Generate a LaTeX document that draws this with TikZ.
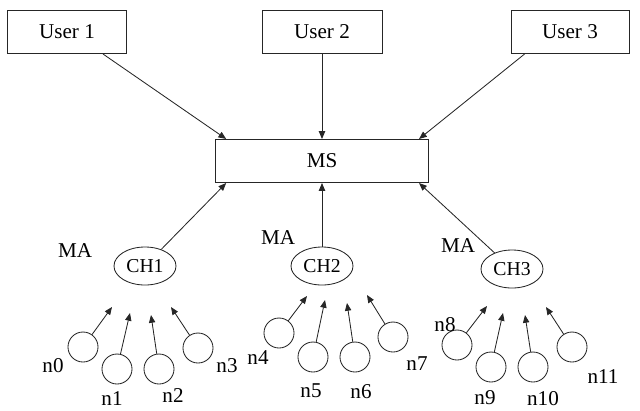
\documentclass[tikz,border=0pt]{standalone}
\usepackage{fontspec}
\setmainfont{Liberation Serif}
\usetikzlibrary{arrows.meta,shapes.geometric}

\begin{document}
\begin{tikzpicture}[x=0.025cm,y=-0.025cm,
    font=\fontsize{15}{18}\selectfont,
    line width=0.6pt,
    box/.style={draw=black!85,rectangle,minimum height=1.08cm,inner sep=0pt},
    chnode/.style={draw=black!85,ellipse,minimum width=1.55cm,minimum height=0.95cm,inner sep=0pt,font=\fontsize{14}{16}\selectfont},
    sensor/.style={draw=black!85,circle,minimum size=0.75cm,inner sep=0pt},
    arr/.style={draw=black!85,-{Triangle[length=5.5pt,width=4.5pt]}}]
  \useasboundingbox (0,0) rectangle (640,410);
  \def\sensors{83/347,117/369,159/369,198/348,279/333,313/357,355/357,393/337,457/345,491/367,533/367,572/347} % circle centres (x/y)
  \def\tips{112/307,130/313,151/315,171/307,307/296,325/300,347/303,367/295,487/306,503/313,525/315,546/307} % arrow ends
  \def\sensorlabels{53/366,112/399,173/396,227/366,258/358,311/391,361/392,417/364,445/325,485/398,543/399,603/377}

  \node[box,minimum width=2.98cm] (u1) at (67,32) {User 1};
  \node[box,minimum width=3cm] (u2) at (322,32) {User 2};
  \node[box,minimum width=2.95cm] (u3) at (570,32) {User 3};
  \node[box,minimum width=5.33cm] (ms) at (322,161) {MS};

  \node[chnode] (ch1) at (145,266) {CH1};
  \node[chnode] (ch2) at (322,266) {CH2};
  \node[chnode] (ch3) at (512,269) {CH3};
  \node (ma1) at (75,251) {MA};
  \node (ma2) at (278,238) {MA};
  \node (ma3) at (458,246) {MA};

  \draw[arr] ([xshift=-0.6cm]u1.south east) -- ([xshift=0.28cm]ms.north west);
  \draw[arr] (u2) -- (ms);
  \draw[arr] ([xshift=0.35cm]u3.south west) -- ([xshift=-0.25cm]ms.north east);
  \draw[arr] (ch1) -- ([xshift=0.28cm]ms.south west);
  \draw[arr] (ch2) -- (ms);
  \draw[arr] (ch3) -- ([xshift=-0.25cm]ms.south east);

  \foreach \x/\y [count=\i from 0] in \sensors {
    \node[sensor] (s\i) at (\x,\y) {}; }
  \foreach \x/\y [count=\i from 0] in \tips {
    \coordinate (t\i) at (\x,\y);
    \draw[arr] (s\i) -- (t\i);
  }
  \foreach \x/\y [count=\i from 0] in \sensorlabels {
    \node (n\i) at (\x,\y) {n\i}; }
\end{tikzpicture}
\end{document}
